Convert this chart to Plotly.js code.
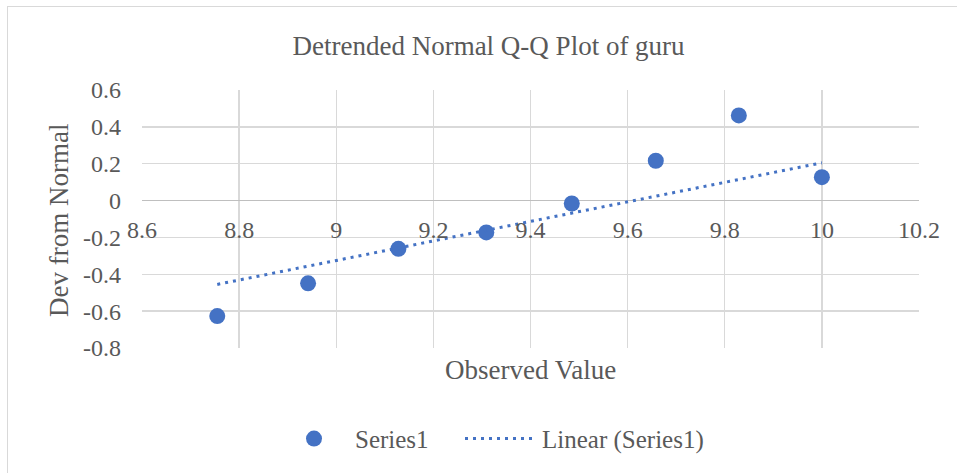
<!DOCTYPE html>
<html>
<head>
<meta charset="utf-8">
<script src="https://cdn.plot.ly/plotly-3.0.1.min.js"></script>
<style>
  html, body { margin: 0; padding: 0; background: #fff; }
  #frame { position: absolute; left: 7px; top: 6px; width: 1000px; height: 500px; border: 1px solid #d9d9d9; box-sizing: border-box; }
  #chart { position: absolute; left: 0; top: 0; width: 957px; height: 473px; }
</style>
</head>
<body>
<div id="frame"></div>
<div id="chart"></div>
<script>
// Data
const observed = [8.755, 8.942, 9.128, 9.309, 9.485, 9.658, 9.829, 10.0];
const devFromNormal = [-0.627, -0.449, -0.262, -0.173, -0.016, 0.216, 0.462, 0.127];
const trendX = [8.755, 10.0];
const trendY = [-0.455, 0.205];
const xTicks = [8.6, 8.8, 9, 9.2, 9.4, 9.6, 9.8, 10, 10.2];
const yTicks = [-0.8, -0.6, -0.4, -0.2, 0, 0.2, 0.4, 0.6];

const blue = '#4472C4';
const txt = '#595959';
const serif = 'Liberation Serif, serif';

const traces = [
  { x: observed, y: devFromNormal, type: 'scatter', mode: 'markers', name: 'Series1',
    marker: { color: blue, size: 16 }, legend: 'legend' },
  { x: trendX, y: trendY, type: 'scatter', mode: 'lines', name: 'Linear (Series1)',
    line: { color: blue, width: 3, dash: '3px,5px' }, legend: 'legend2' }
];

const legendCommon = { orientation: 'h', xanchor: 'left', y: -0.347, yanchor: 'middle',
  font: { family: serif, size: 25, color: txt }, itemwidth: 72, bgcolor: 'rgba(0,0,0,0)' };

const layout = {
  width: 957, height: 473,
  margin: { l: 142, r: 38, t: 90, b: 124 },
  paper_bgcolor: 'rgba(0,0,0,0)', plot_bgcolor: 'rgba(0,0,0,0)',
  font: { family: serif, color: txt, size: 24 },
  title: { text: 'Detrended Normal Q-Q Plot of guru', font: { family: serif, size: 27, color: txt },
    x: 0.5105, xref: 'container', y: 0.9027, yref: 'container', xanchor: 'center', yanchor: 'middle' },
  xaxis: { range: [8.6, 10.2], tickvals: xTicks, ticktext: xTicks.map(String), showgrid: true,
    gridcolor: '#d9d9d9', gridwidth: 1.3, zeroline: false, showline: false, ticks: '',
    anchor: 'free', position: 0.5714, ticklabelstandoff: 12, tickfont: { family: serif, size: 24, color: txt } },
  yaxis: { range: [-0.8, 0.6], tickvals: yTicks, ticktext: yTicks.map(String), showgrid: true,
    gridcolor: '#d9d9d9', gridwidth: 1.3, zeroline: true, zerolinecolor: '#bfbfbf', zerolinewidth: 1.5,
    showline: false, ticks: '', ticklabelstandoff: 20, tickfont: { family: serif, size: 24, color: txt } },
  showlegend: true,
  legend: Object.assign({}, legendCommon, { x: 0.1686 }),
  legend2: Object.assign({}, legendCommon, { x: 0.4093 }),
  annotations: [
    { text: 'Observed Value', xref: 'paper', yref: 'paper', x: 0.5, y: -0.085, yanchor: 'middle',
      showarrow: false, font: { family: serif, size: 27, color: txt } },
    { text: 'Dev from Normal', xref: 'paper', yref: 'paper', x: -0.107, y: 0.496, xanchor: 'center',
      textangle: -90, showarrow: false, font: { family: serif, size: 27, color: txt } }
  ]
};

Plotly.newPlot('chart', traces, layout, { displayModeBar: false, staticPlot: true });
</script>
</body>
</html>
